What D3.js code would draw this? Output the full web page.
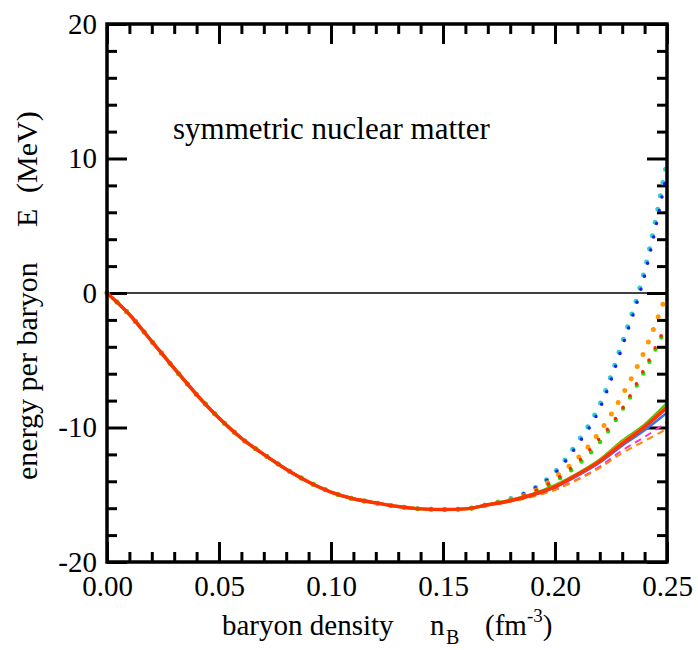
<!DOCTYPE html>
<html><head><meta charset="utf-8"><script src="https://cdn.jsdelivr.net/npm/d3@7"></script>
<style>
.serif { font-family: 'Tinos' !important; }
</style>
</head>
<body style="margin:0">
<script>
// baryon density grid (fm^-3)
const density = [0.00, 0.01, 0.02, 0.03, 0.04, 0.05, 0.06, 0.07, 0.08, 0.09, 0.10, 0.11, 0.12,
	0.13, 0.14, 0.15, 0.16, 0.17, 0.18, 0.19, 0.20, 0.21, 0.22, 0.23, 0.24, 0.25];

// all models agree up to 0.16 fm^-3
const commonE = [0, -1.6, -3.6, -5.6, -7.55, -9.3, -10.8, -12.0, -13.1, -14.05, -14.8, -15.3,
	-15.6, -15.88, -16.05, -16.1, -16.05];

// tails from 0.17 to 0.25
const solidRed = [-15.75, -15.45, -15.0, -14.4, -13.5, -12.5, -11.2, -9.95, -8.5];
const solidOrange = [-15.75, -15.45, -15.0, -14.35, -13.5, -12.45, -11.1, -9.9, -8.4];
const solidGreen = [-15.75, -15.4, -14.95, -14.3, -13.45, -12.4, -11.0, -9.8, -8.2];
const solidBlue = [-15.75, -15.45, -15.05, -14.45, -13.6, -12.6, -11.35, -10.2, -8.9];
const dashedPink = [-15.8, -15.5, -15.1, -14.6, -13.85, -12.9, -11.7, -10.7, -9.6];
const dashedOrange = [-15.8, -15.5, -15.15, -14.65, -13.9, -13.0, -11.9, -11.0, -10.1];
const dottedBlue = [-15.7, -15.3, -14.6, -13.4, -11.3, -8.6, -4.0, 1.3, 9.0];
const dottedCyan = [-15.7, -15.3, -14.6, -13.3, -11.1, -8.3, -3.7, 1.7, 9.8];
const dottedOrange = [-15.75, -15.35, -14.8, -13.7, -12.3, -10.3, -7.6, -4.3, 0.0];
const dottedRed = [-15.75, -15.4, -14.8, -13.9, -12.6, -10.8, -8.6, -5.6, -2.3];
const dottedGreen = [-15.75, -15.4, -14.9, -14.0, -12.8, -11.1, -8.7, -5.8, -2.4];

const xTicks = [0, 0.05, 0.10, 0.15, 0.20, 0.25];
const yTicks = [-20, -10, 0, 10, 20];

const series = [
	{ tail: dottedCyan, color: '#33cccc', dash: 'dot', w: 5 },
	{ tail: dottedBlue, color: '#1a1aff', dash: 'dot', w: 3.5 },
	{ tail: dottedOrange, color: '#ff9900', dash: 'dot', w: 5 },
	{ tail: dottedGreen, color: '#22dd00', dash: 'dot', w: 4.5 },
	{ tail: dottedRed, color: '#ff2200', dash: 'dot', w: 3.5 },
	{ tail: dashedPink, color: '#ff33cc', dash: '7 5', w: 2 },
	{ tail: dashedOrange, color: '#ff8800', dash: '7 5', w: 2 },
	{ tail: solidBlue, color: '#3377ff', dash: null, w: 2.5 },
	{ tail: solidGreen, color: '#33cc00', dash: null, w: 3 },
	{ tail: solidOrange, color: '#ff9900', dash: null, w: 3 },
	{ tail: solidRed, color: '#ff3300', dash: null, w: 3.5 },
];

const width = 698, height = 650;
const margin = { top: 24, right: 31, bottom: 88, left: 107 };
const w = width - margin.left - margin.right;
const h = height - margin.top - margin.bottom;
const serif = "'Tinos'";

const svg = d3.select('body').append('svg')
	.attr('width', width)
	.attr('height', height);

const plot = svg.append('g')
	.attr('transform', `translate(${margin.left},${margin.top})`);

const x = d3.scaleLinear().domain([0, 0.25]).range([0, w]);
const y = d3.scaleLinear().domain([-20, 20]).range([h, 0]);

const minorX = d3.range(0, 26).map((i) => i / 100).filter((v) => Math.round(v * 100) % 5 !== 0);
const minorY = d3.range(-20, 21, 2).filter((v) => v % 10 !== 0);

function styleAxis(g) {
	g.attr('font-family', serif).attr('font-size', null);
	g.select('.domain').remove();
	g.selectAll('line').attr('stroke', '#000').attr('stroke-width', 3);
	g.selectAll('text')
		.attr('class', 'serif')
		.attr('font-size', 29)
		.attr('fill', '#000')
		.style('font-family', serif);
}

// major ticks with labels
plot.append('g')
	.attr('transform', `translate(0,${h})`)
	.call(d3.axisBottom(x).tickValues(xTicks).tickSize(-20).tickPadding(13).tickFormat(d3.format('.2f')))
	.call(styleAxis);
plot.append('g')
	.call(d3.axisLeft(y).tickValues(yTicks).tickSize(-20).tickPadding(10).tickFormat((d) => String(d)))
	.call(styleAxis);
plot.append('g')
	.call(d3.axisTop(x).tickValues(xTicks).tickSize(-20).tickFormat(''))
	.call(styleAxis);
plot.append('g')
	.attr('transform', `translate(${w},0)`)
	.call(d3.axisRight(y).tickValues(yTicks).tickSize(-20).tickFormat(''))
	.call(styleAxis);

// minor ticks
plot.append('g')
	.attr('transform', `translate(0,${h})`)
	.call(d3.axisBottom(x).tickValues(minorX).tickSize(-10).tickFormat(''))
	.call(styleAxis);
plot.append('g')
	.call(d3.axisTop(x).tickValues(minorX).tickSize(-10).tickFormat(''))
	.call(styleAxis);
plot.append('g')
	.call(d3.axisLeft(y).tickValues(minorY).tickSize(-10).tickFormat(''))
	.call(styleAxis);
plot.append('g')
	.attr('transform', `translate(${w},0)`)
	.call(d3.axisRight(y).tickValues(minorY).tickSize(-10).tickFormat(''))
	.call(styleAxis);

// zero line
plot.append('line')
	.attr('x1', x(0)).attr('x2', x(0.25))
	.attr('y1', y(0)).attr('y2', y(0))
	.attr('stroke', '#000')
	.attr('stroke-width', 1.5);

const line = d3.line()
	.x((d) => x(d[0]))
	.y((d) => y(d[1]))
	.curve(d3.curveMonotoneX);

series.forEach((s) => {
	const values = commonE.concat(s.tail);
	const pts = density.map((n, i) => [n, values[i]]);
	const path = plot.append('path')
		.datum(pts)
		.attr('fill', 'none')
		.attr('stroke', s.color)
		.attr('stroke-width', s.w)
		.attr('d', line);
	if (s.dash === 'dot') {
		path.attr('stroke-dasharray', '0 13.5').attr('stroke-linecap', 'round');
	} else if (s.dash) {
		path.attr('stroke-dasharray', s.dash);
	}
});

// frame
plot.append('rect')
	.attr('width', w)
	.attr('height', h)
	.attr('fill', 'none')
	.attr('stroke', '#000')
	.attr('stroke-width', 3.5);

// texts
svg.append('text')
	.attr('class', 'serif')
	.attr('x', 173)
	.attr('y', 139)
	.attr('font-size', 31)
	.style('font-family', serif)
	.text('symmetric nuclear matter');

const xl = svg.append('text')
	.attr('class', 'serif')
	.attr('y', 635)
	.attr('font-size', 29)
	.style('font-family', serif);
xl.append('tspan').attr('x', 222).text('baryon density');
xl.append('tspan').attr('x', 430).text('n');
xl.append('tspan').attr('x', 446).attr('dy', 9).attr('font-size', 20).text('B');
xl.append('tspan').attr('x', 485).attr('dy', -9).text('(fm');
xl.append('tspan').attr('dy', -13).attr('font-size', 19).text('-3');
xl.append('tspan').attr('dy', 13).text(')');

const yl = svg.append('text')
	.attr('class', 'serif')
	.attr('transform', 'translate(37,480) rotate(-90)')
	.attr('font-size', 30)
	.style('font-family', serif);
yl.append('tspan').attr('x', 0).text('energy per baryon');
yl.append('tspan').attr('x', 253).text('E');
yl.append('tspan').attr('x', 287).text('(MeV)');
</script>
</body>
</html>
